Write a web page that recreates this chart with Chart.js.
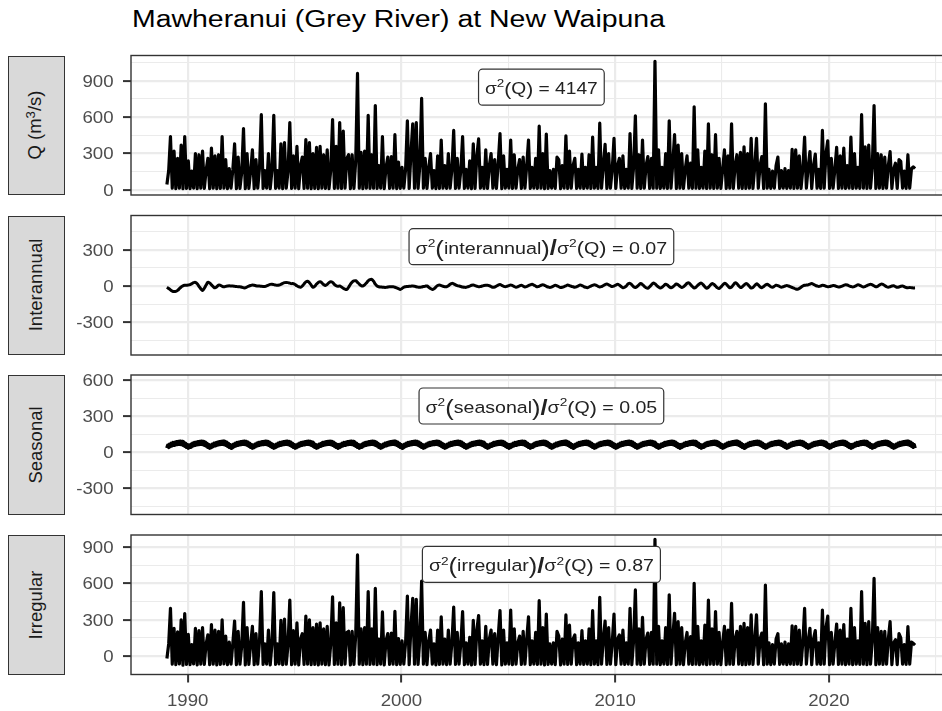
<!DOCTYPE html>
<html>
<head>
<meta charset="utf-8">
<script src="https://cdn.jsdelivr.net/npm/chart.js@4.4.1/dist/chart.umd.min.js"></script>
<style>
  html, body { margin: 0; padding: 0; background: #fff; overflow: hidden; width: 942px; height: 711px; }
  body { position: relative; font-family: "Liberation Sans", Arial, sans-serif; }
  canvas { position: absolute; left: 0; }
  #title { position: absolute; left: 131.5px; top: 8.4px; font-size: 23.5px; line-height: 23.5px; color: #000; white-space: nowrap; transform-origin: 0 0; }
  .strip { position: absolute; left: 7.5px; width: 57.5px; height: 139.5px; background: #d9d9d9; border: 1.3px solid #333; box-sizing: border-box; }
  .strip > .lab { position: absolute; left: 50%; top: 50%; transform: translate(-50%, -50%) rotate(-90deg); white-space: nowrap; font-size: 18.5px; line-height: 18.5px; color: #1a1a1a; }
  .strip .sup { position: relative; top: -0.45em; font-size: 0.72em; }
</style>
</head>
<body>
<div id="title">Mawheranui (Grey River) at New Waipuna</div>
<script>
// monthly readings of the flow record, early 1989 to early 2024
const startYear = 1989.03;

const flowQ = [
  45, 160, 440, 14, 320, 11, 260, 15, 370, 10, 440, 13,      // 1989
  240, 11, 155, 15, 300, 10, 290, 14, 320, 12, 160, 260,     // 1990
  11, 345, 14, 280, 10, 290, 13, 440, 15, 250, 11, 175,      // 1991
  14, 165, 380, 10, 270, 13, 145, 505, 10, 300, 12, 155,     // 1992
  330, 11, 250, 15, 185, 620, 12, 160, 14, 300, 10, 165,     // 1993
  615, 13, 160, 15, 380, 11, 390, 14, 155, 555, 12, 280,     // 1994
  14, 360, 10, 200, 270, 13, 415, 15, 390, 11, 300, 13,      // 1995
  350, 10, 360, 14, 290, 12, 330, 10, 165, 580, 13, 360,     // 1996
  14, 555, 12, 485, 15, 260, 290, 10, 290, 13, 240, 960,     // 1997
  14, 310, 11, 320, 15, 615, 13, 290, 14, 695, 12, 200,      // 1998
  14, 440, 10, 185, 270, 13, 275, 15, 455, 11, 230, 13,      // 1999
  185, 14, 170, 570, 12, 300, 545, 15, 555, 13, 200, 755,    // 2000
  14, 260, 12, 185, 300, 15, 160, 10, 280, 13, 410, 14,      // 2001
  200, 12, 300, 15, 170, 490, 13, 260, 14, 160, 440, 12,     // 2002
  170, 14, 240, 10, 380, 13, 280, 420, 15, 185, 12, 330,     // 2003
  13, 200, 300, 15, 250, 12, 220, 465, 10, 280, 14, 170,     // 2004
  14, 410, 12, 290, 15, 170, 250, 13, 270, 14, 200, 410,     // 2005
  12, 185, 14, 260, 13, 525, 15, 300, 10, 460, 13, 160,      // 2006
  14, 170, 12, 270, 250, 10, 200, 14, 445, 13, 320, 14,      // 2007
  200, 260, 12, 170, 15, 295, 13, 185, 14, 290, 12, 435,     // 2008
  14, 185, 12, 550, 15, 200, 375, 13, 300, 14, 170, 425,     // 2009
  12, 200, 260, 14, 280, 13, 170, 15, 465, 12, 185, 610,     // 2010
  14, 290, 12, 410, 15, 200, 275, 13, 260, 14, 1060, 14,     // 2011
  330, 12, 185, 14, 300, 13, 570, 15, 220, 455, 12, 370,     // 2012
  14, 300, 12, 170, 280, 15, 220, 13, 685, 14, 330, 12,      // 2013
  185, 14, 320, 12, 545, 15, 290, 13, 455, 14, 260, 12,      // 2014
  170, 330, 12, 280, 15, 545, 13, 200, 290, 14, 310, 12,     // 2015
  355, 12, 300, 14, 425, 13, 185, 425, 15, 200, 275, 12,     // 2016
  710, 14, 170, 12, 155, 15, 200, 270, 13, 160, 14, 175,     // 2017
  12, 160, 14, 335, 13, 330, 15, 280, 12, 170, 435, 14,      // 2018
  185, 315, 12, 200, 295, 15, 170, 13, 490, 14, 300, 405,    // 2019
  12, 260, 14, 170, 350, 13, 280, 15, 345, 12, 200, 14,      // 2020
  435, 12, 300, 14, 185, 13, 620, 15, 355, 12, 370, 14,      // 2021
  185, 695, 12, 300, 14, 290, 13, 270, 15, 200, 315, 12,     // 2022
  170, 220, 12, 250, 235, 14, 155, 13, 290, 15, 175, 190,    // 2023
  175                                                        // 2024
];

const interannual = [
  -10, -20, -32, -42, -46, -44, -36, -22, -8, 2, 6, 7,       // 1989
  8, 12, 20, 28, 30, 18, -2, -22, -36, -18, 8, 30,           // 1990
  25, 10, -5, -15, -6, 8, 6, -2, -6, -3, 0, 2,               // 1991
  0, 0, -2, -4, -6, -6, -10, -14, -15, -8, 0, 5,             // 1992
  8, 6, 2, 0, 0, -2, -3, -3, 2, 8, 14, 15,                   // 1993
  12, 8, 6, 8, 14, 22, 28, 30, 28, 24, 20, 20,               // 1994
  12, 2, -6, -10, 0, 18, 34, 40, 28, 8, -10, -2,             // 1995
  16, 30, 36, 26, 12, 5, 14, 28, 36, 30, 14, 2,              // 1996
  -2, 0, -8, -18, -26, -28, -10, 14, 32, 42, 44, 30,         // 1997
  16, 4, 0, 10, 26, 42, 52, 55, 40, 16, 0, -6,               // 1998
  -8, -10, -11, -11, -8, -6, -6, -6, -10, -16, -22, -28,     // 1999
  -20, -10, -6, -4, -2, -1, 0, -2, -6, -9, -11, -8,          // 2000
  -4, -1, 0, -10, -20, -28, -22, -8, 4, 8, 4, -2,            // 2001
  -5, -6, 2, 14, 22, 18, 10, 4, 0, -4, -8, -10,              // 2002
  -11, -6, 0, 6, 8, 4, -2, -6, -4, 0, 4, 6,                  // 2003
  6, 2, -4, -10, -8, 0, 8, 12, 6, -2, -6, -2,                // 2004
  4, 8, 4, -4, -10, -6, 2, 6, 0, -8, -4, 4,                  // 2005
  10, 14, 8, 0, -6, -2, 6, 10, 6, -2, -8, -12,               // 2006
  -8, 0, 6, 2, -6, -12, -10, -4, 2, 8, 4, -2,                // 2007
  -6, -10, -6, 2, 8, 4, -4, -10, -14, -8, 0, 6,              // 2008
  10, 6, -2, -8, -4, 4, 12, 16, 10, 2, -4, 0,                // 2009
  8, 14, 8, -4, -14, -10, 2, 18, 22, 10, -6, -12,            // 2010
  -4, 10, 20, 12, -2, -14, -18, -6, 10, 24, 18, 4,           // 2011
  -8, -16, -10, 4, 14, 8, -6, -14, -8, 6, 16, 10,            // 2012
  -2, -12, -6, 8, 22, 26, 12, -4, -16, -10, 6, 18,           // 2013
  24, 12, -6, -18, -10, 6, 20, 14, 0, -14, -20, -8,          // 2014
  8, 22, 16, 0, -14, -8, 10, 26, 20, 2, -12, -6,             // 2015
  8, 20, 14, -2, -16, -12, 4, 18, 10, -6, -14, -4,           // 2016
  8, 14, 6, -6, -10, -2, 6, 4, -4, -10, -6, 0,               // 2017
  4, 0, -6, -12, -18, -24, -26, -20, -10, 0, 6, 8,           // 2018
  10, 16, 20, 14, 6, 0, -4, 0, 6, 4, -2, -6,                 // 2019
  -4, 0, 4, 2, -4, -8, -6, 0, 6, 10, 8, 2,                   // 2020
  -4, -8, -4, 4, 10, 6, -2, -8, -4, 4, 10, 14,               // 2021
  10, 2, -6, -2, 8, 16, 14, 4, -6, -10, -6, 0,               // 2022
  2, -4, -10, -8, -2, 0, -6, -12, -14, -12, -14, -16,        // 2023
  -15                                                        // 2024
];

// one year of the seasonal component, twice a month, repeated every year
const seasonalCycle = [35, 58, 42, 66, 50, 74, 56, 80, 60, 84, 64, 88,
                       66, 90, 68, 92, 66, 90, 60, 84, 52, 74, 42, 64];

const irregular = [
  -20, 100, 395, -68, 230, -72, 200, -66, 300, -75, 352, -70,   // 1989
  180, -72, 95, -66, 230, -74, 210, -68, 235, -70, 100, 175,    // 1990
  -72, 260, -68, 215, -74, 205, -70, 300, -66, 165, -72, 115,   // 1991
  -68, 105, 290, -72, 205, -68, 85, 445, -74, 235, -70, 95,     // 1992
  245, -72, 185, -67, 125, 533, -70, 100, -68, 215, -73, 105,   // 1993
  525, -70, 100, -66, 295, -72, 305, -68, 95, 464, -71, 210,    // 1994
  -68, 275, -73, 140, 185, -70, 330, -67, 300, -72, 235, -70,   // 1995
  265, -73, 275, -68, 225, -71, 245, -73, 105, 490, -70, 275,   // 1996
  -68, 440, -71, 400, -67, 195, 205, -73, 205, -70, 175, 837,   // 1997
  -68, 225, -72, 235, -67, 533, -70, 225, -68, 561, -71, 140,   // 1998
  -68, 365, -73, 125, 185, -70, 190, -67, 370, -72, 145, -70,   // 1999
  125, -68, 110, 497, -71, 235, 478, -67, 470, -70, 140, 621,   // 2000
  -68, 195, -71, 125, 215, -67, 100, -73, 215, -70, 325, -68,   // 2001
  140, -71, 215, -67, 110, 405, -70, 195, -68, 100, 368, -71,   // 2002
  110, -68, 155, -73, 295, -70, 215, 335, -67, 125, -71, 245,   // 2003
  -70, 140, 215, -67, 185, -71, 160, 376, -73, 215, -68, 110,   // 2004
  -68, 381, -71, 225, -67, 110, 165, -70, 205, -68, 140, 325,   // 2005
  -71, 125, -68, 195, -70, 458, -67, 235, -73, 348, -70, 100,   // 2006
  -68, 110, -71, 205, 165, -73, 140, -68, 340, -70, 255, -68,   // 2007
  140, 175, -71, 110, -67, 210, -70, 125, -68, 225, -71, 376,   // 2008
  -68, 125, -71, 486, -67, 140, 290, -70, 235, -68, 110, 348,   // 2009
  -71, 140, 175, -68, 215, -70, 110, -67, 395, -71, 125, 547,   // 2010
  -68, 225, -71, 320, -67, 140, 190, -70, 195, -68, 967, -68,   // 2011
  245, -71, 125, -68, 235, -70, 506, -67, 160, 354, -71, 285,   // 2012
  -68, 235, -71, 110, 195, -67, 160, -70, 602, -68, 245, -71,   // 2013
  125, -68, 255, -71, 464, -67, 225, -70, 368, -68, 195, -71,   // 2014
  110, 245, -71, 215, -67, 436, -70, 140, 205, -68, 245, -71,   // 2015
  270, -71, 235, -68, 340, -70, 125, 340, -67, 140, 190, -71,   // 2016
  588, -68, 110, -71, 95, -67, 140, 185, -70, 100, -68, 115,    // 2017
  -71, 100, -68, 250, -70, 245, -67, 215, -71, 110, 395, -68,   // 2018
  125, 230, -71, 140, 210, -67, 110, -70, 381, -68, 235, 330,   // 2019
  -71, 195, -68, 110, 265, -70, 215, -67, 260, -71, 140, -68,   // 2020
  395, -71, 235, -68, 125, -70, 533, -67, 270, -71, 285, -68,   // 2021
  125, 643, -71, 235, -68, 205, -70, 205, -67, 140, 285, -71,   // 2022
  110, 135, -71, 185, 150, -68, 95, -70, 243, -67, 115, 105,    // 2023
  90                                                            // 2024
];

const yearTicks = [1990, 2000, 2010, 2020];
const yearMinorTicks = [1995, 2005, 2015, 2025];
const qTicks = [0, 300, 600, 900];
const interannualTicks = [-300, 0, 300];
const seasonalTicks = [-300, 0, 300, 600];
const irregularTicks = [0, 300, 600, 900];
const varianceQ = '4147';
const shareInterannual = '0.07';
const shareSeasonal = '0.05';
const shareIrregular = '0.87';

// ---- build series ----
const seasonal = [];
for (let y = 0; y < 35; y++) seasonal.push(...seasonalCycle);
seasonal.push(seasonalCycle[0]);

function toPoints(vals, step) {
  return vals.map((v, i) => ({ x: startYear + i * step, y: v }));
}

// ---- layout ----
const CANVAS_W = 970;
const PLOT_LEFT = 131;
const PLOT_RIGHT = 955;
const PANEL_H = 139.5;
const X_MIN = 1987.35, X_MAX = 2025.9;
const TICK_FONT = '16.5px "Liberation Sans", Arial, sans-serif';
const TICK_SX = 1.13;
const LABEL_SIZE = 16.3;
const LABEL_X = 2006.55;

function shareParts(name, value) {
  return [['σ'], ['2', 'sup'], ['(', 'big'], [name], [')', 'big'], ['/', 'slash'],
          ['σ'], ['2', 'sup'], ['(', 'mid'], ['Q'], [')', 'mid'], [' = ' + value]];
}

const panels = [
  { strip: 'Q&nbsp;(m<span class="sup">3</span>/s)', data: toPoints(flowQ, 1 / 12), top: 55.5,
    min: -42, max: 1108, ticks: qTicks, minor: [150, 450, 750, 1050], width: 3.2, tension: 0,
    labelY: 847, labelW: 112.7,
    parts: [['σ'], ['2', 'sup'], ['(', 'mid'], ['Q'], [')', 'mid'], [' = ' + varianceQ]] },
  { strip: 'Interannual', data: toPoints(interannual, 1 / 12), top: 215.5,
    min: -570, max: 583, ticks: interannualTicks, minor: [-450, -150, 150, 450], width: 3, tension: 0.4,
    labelY: 325, labelW: 251.7, parts: shareParts('interannual', shareInterannual) },
  { strip: 'Seasonal', data: toPoints(seasonal, 1 / 24), top: 375,
    min: -520, max: 646, ticks: seasonalTicks, minor: [-450, -150, 150, 450], width: 3.6, tension: 0,
    labelY: 387, labelW: 231.7, parts: shareParts('seasonal', shareSeasonal) },
  { strip: 'Irregular', data: toPoints(irregular, 1 / 12), top: 535,
    min: -153, max: 1002, ticks: irregularTicks, minor: [-150, 150, 450, 750], width: 3.2, tension: 0,
    labelY: 758, labelW: 225, parts: shareParts('irregular', shareIrregular) }
];

function partFont(kind) {
  const f = '"Liberation Sans", Arial, sans-serif';
  if (kind === 'sup') return (LABEL_SIZE * 0.7) + 'px ' + f;
  if (kind === 'big') return (LABEL_SIZE * 1.3) + 'px ' + f;
  if (kind === 'mid') return (LABEL_SIZE * 1.1) + 'px ' + f;
  if (kind === 'slash') return 'bold ' + (LABEL_SIZE * 1.3) + 'px ' + f;
  return LABEL_SIZE + 'px ' + f;
}
function partShift(kind) {
  if (kind === 'sup') return -LABEL_SIZE * 0.42;
  if (kind === 'big') return LABEL_SIZE * 0.12;
  if (kind === 'mid') return LABEL_SIZE * 0.04;
  if (kind === 'slash') return LABEL_SIZE * 0.1;
  return 0;
}

function drawLabel(chart, p) {
  const ctx = chart.ctx;
  const cx = chart.scales.x.getPixelForValue(LABEL_X);
  const cy = chart.scales.y.getPixelForValue(p.labelY);
  ctx.save();
  let natural = 0;
  const widths = p.parts.map(([t, k]) => {
    ctx.font = partFont(k);
    const w = ctx.measureText(t).width;
    natural += w;
    return w;
  });
  const sx = p.labelW / natural;
  const boxW = p.labelW + 13, boxH = 36;
  ctx.beginPath();
  ctx.roundRect(cx - boxW / 2, cy - boxH / 2, boxW, boxH, 4);
  ctx.fillStyle = '#fff';
  ctx.fill();
  ctx.lineWidth = 1.2;
  ctx.strokeStyle = '#333';
  ctx.stroke();
  ctx.translate(cx - p.labelW / 2, cy + 7);
  ctx.scale(sx, 1);
  ctx.fillStyle = '#222';
  ctx.textBaseline = 'alphabetic';
  let x = 0;
  p.parts.forEach(([t, k], i) => {
    ctx.font = partFont(k);
    ctx.fillText(t, x, partShift(k));
    x += widths[i];
  });
  ctx.restore();
}

function stretchedText(ctx, text, x, y, align) {
  ctx.save();
  ctx.translate(x, y);
  ctx.scale(TICK_SX, 1);
  ctx.textAlign = align;
  ctx.fillText(text, 0, 0);
  ctx.restore();
}

panels.forEach((p, idx) => {
  const last = idx === panels.length - 1;
  const canvasTop = Math.floor(p.top) - 10;
  const padTop = p.top - canvasTop;
  const axisH = last ? 40 : 0;
  const height = Math.ceil(padTop + PANEL_H + (last ? 40 : 10));
  const padBottom = height - padTop - PANEL_H - axisH;

  const strip = document.createElement('div');
  strip.className = 'strip';
  strip.style.top = p.top + 'px';
  strip.innerHTML = '<span class="lab">' + p.strip + '</span>';
  document.body.appendChild(strip);

  const canvas = document.createElement('canvas');
  canvas.width = CANVAS_W;
  canvas.height = height;
  canvas.style.top = canvasTop + 'px';
  document.body.appendChild(canvas);

  const yMajor = new Set(p.ticks);
  const xMajor = new Set(yearTicks);

  const deco = {
    id: 'deco' + idx,
    afterDatasetsDraw(chart) { drawLabel(chart, p); },
    afterDraw(chart) {
      const { ctx, chartArea: a } = chart;
      ctx.save();
      ctx.strokeStyle = '#333';
      ctx.lineWidth = 1.4;
      ctx.strokeRect(a.left, a.top, a.right - a.left, a.bottom - a.top);
      ctx.fillStyle = '#4d4d4d';
      ctx.font = TICK_FONT;
      p.ticks.forEach(v => {
        const y = chart.scales.y.getPixelForValue(v);
        stretchedText(ctx, String(v), a.left - 17.5, y + 5.9, 'right');
      });
      if (last) {
        yearTicks.forEach(v => {
          const x = chart.scales.x.getPixelForValue(v);
          stretchedText(ctx, String(v), x, a.bottom + 31, 'center');
        });
      }
      ctx.restore();
    }
  };

  new Chart(canvas, {
    type: 'line',
    data: {
      datasets: [{
        data: p.data,
        borderColor: '#000',
        borderWidth: p.width,
        borderJoinStyle: 'round',
        pointRadius: 0,
        tension: p.tension,
        fill: false
      }]
    },
    options: {
      responsive: false,
      animation: false,
      devicePixelRatio: 1,
      parsing: false,
      layout: { padding: { top: padTop, bottom: padBottom, left: 0, right: CANVAS_W - PLOT_RIGHT } },
      plugins: { legend: { display: false }, tooltip: { enabled: false } },
      scales: {
        x: {
          type: 'linear',
          min: X_MIN,
          max: X_MAX,
          border: { display: false },
          ticks: { display: false },
          afterBuildTicks: s => {
            s.ticks = [...yearTicks, ...yearMinorTicks].sort((a, b) => a - b).map(v => ({ value: v }));
          },
          afterFit: s => { s.height = axisH; },
          grid: {
            color: '#ebebeb',
            lineWidth: c => (c.tick && xMajor.has(c.tick.value)) ? 2.2 : 1.1,
            drawTicks: last,
            tickLength: 8,
            tickWidth: 2,
            tickColor: c => (c.tick && xMajor.has(c.tick.value)) ? '#333' : 'rgba(0,0,0,0)'
          }
        },
        y: {
          type: 'linear',
          min: p.min,
          max: p.max,
          border: { display: false },
          ticks: { display: false },
          afterBuildTicks: s => {
            s.ticks = [...p.ticks, ...p.minor].sort((a, b) => a - b).map(v => ({ value: v }));
          },
          afterFit: s => { s.width = PLOT_LEFT; },
          grid: {
            color: '#ebebeb',
            lineWidth: c => (c.tick && yMajor.has(c.tick.value)) ? 2.2 : 1.1,
            drawTicks: true,
            tickLength: 8,
            tickWidth: 2,
            tickColor: c => (c.tick && yMajor.has(c.tick.value)) ? '#333' : 'rgba(0,0,0,0)'
          }
        }
      }
    },
    plugins: [deco]
  });
});

// title glyphs run wider than the font's natural advance
const title = document.getElementById('title');
title.style.transform = 'scaleX(' + (533 / title.getBoundingClientRect().width) + ')';
</script>
</body>
</html>
